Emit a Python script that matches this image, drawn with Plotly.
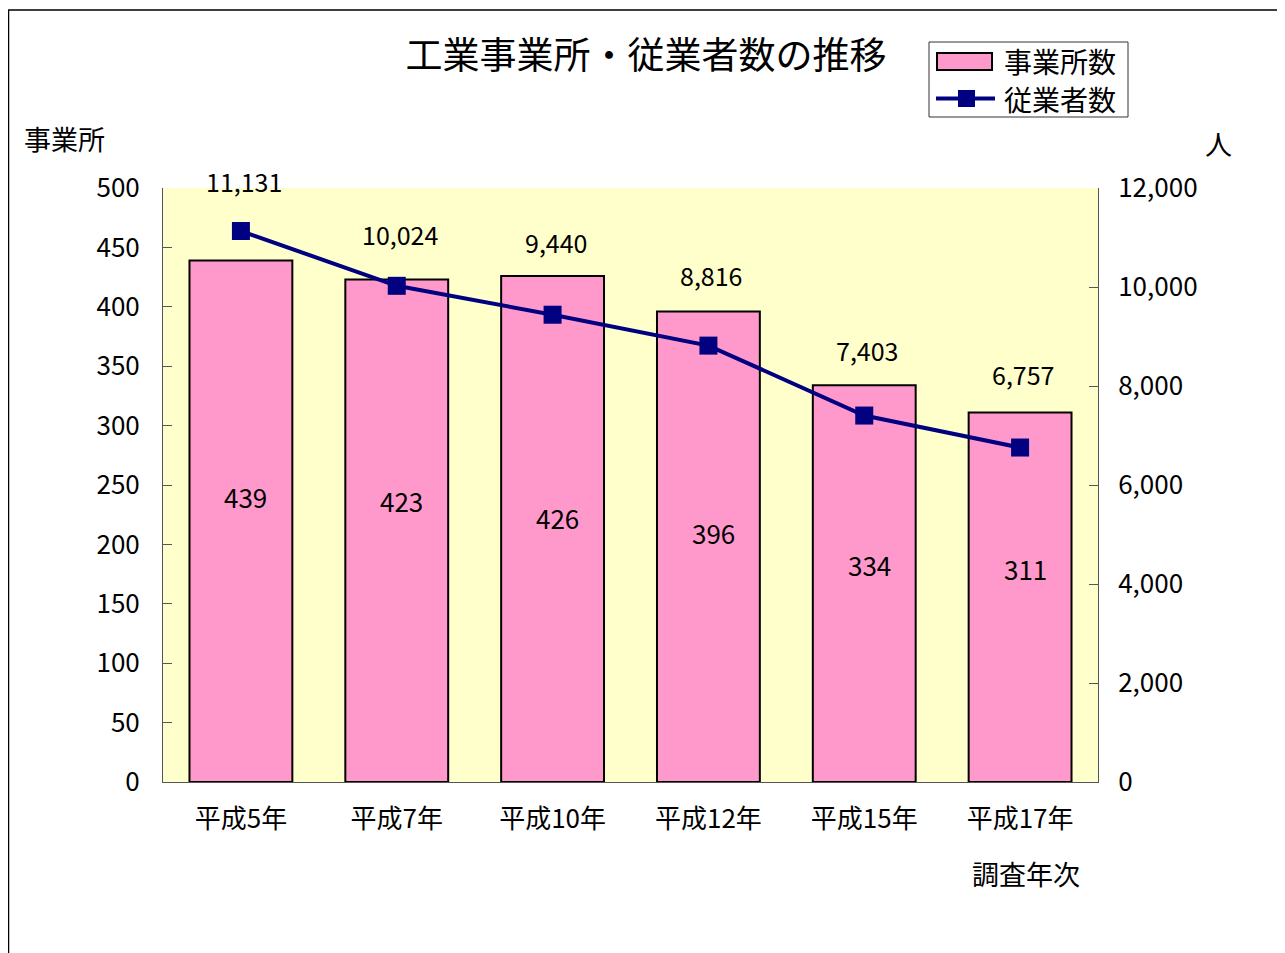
import plotly.graph_objects as go

categories = ["平成5年", "平成7年", "平成10年", "平成12年", "平成15年", "平成17年"]
establishments = [439, 423, 426, 396, 334, 311]
employees = [11131, 10024, 9440, 8816, 7403, 6757]
bar_label_y = [239, 235, 221, 208, 181, 178]        # where the in-bar labels sit (left axis units)
line_label_shift = [50, 52, 73, 71, 66, 74]          # pixel lift of employee labels above markers

FONT = "Noto Sans CJK JP"
OFF = 8  # page body margin
W, H = 1285 - OFF, 953 - OFF
L, T = 163 - OFF, 188 - OFF
RX, BY = 1098 - OFF, 782 - OFF
R, B = W - RX, H - BY
pw, ph = RX - L, BY - T


def px_x(p):
    return (p - OFF - L) / pw


def px_y(p):
    return (BY - (p - OFF)) / ph


fig = go.Figure()
fig.add_trace(go.Bar(
    x=categories, y=establishments, name="事業所数",
    marker=dict(color="#FF99CC", line=dict(color="#000000", width=2)),
    width=0.66, yaxis="y", showlegend=False,
))
fig.add_trace(go.Scatter(
    x=categories, y=employees, name="従業者数", mode="lines+markers",
    line=dict(color="#000080", width=4),
    marker=dict(symbol="square", size=18, color="#000080"),
    yaxis="y2", showlegend=False,
))

ann = []
for c, v, ly in zip(categories, establishments, bar_label_y):
    ann.append(dict(x=c, y=ly, xref="x", yref="y", text=str(v), showarrow=False,
                    xshift=5, yshift=2, font=dict(family=FONT, size=26, color="#000")))
for c, v, s in zip(categories, employees, line_label_shift):
    ann.append(dict(x=c, y=v, xref="x", yref="y2", text=f"{v:,}", showarrow=False,
                    yshift=s, xshift=3, font=dict(family=FONT, size=25, color="#000")))

ann += [
    dict(x=px_x(64), y=px_y(138), xref="paper", yref="paper", text="事業所", showarrow=False,
         xanchor="center", yanchor="middle", font=dict(family=FONT, size=27, color="#000")),
    dict(x=px_x(1218), y=px_y(143), xref="paper", yref="paper", text="人", showarrow=False,
         xanchor="center", yanchor="middle", font=dict(family=FONT, size=27, color="#000")),
    dict(x=px_x(1026), y=px_y(873), xref="paper", yref="paper", text="調査年次", showarrow=False,
         xanchor="center", yanchor="middle", font=dict(family=FONT, size=27, color="#000")),
    # legend texts
    dict(x=px_x(1002), y=px_y(61), xref="paper", yref="paper", text="事業所数", showarrow=False,
         xanchor="left", yanchor="middle", font=dict(family=FONT, size=28, color="#000")),
    dict(x=px_x(1002), y=px_y(99), xref="paper", yref="paper", text="従業者数", showarrow=False,
         xanchor="left", yanchor="middle", font=dict(family=FONT, size=28, color="#000")),
]

shapes = [
    # outer frame
    dict(type="rect", xref="paper", yref="paper",
         x0=px_x(8.5), x1=px_x(1300), y0=px_y(970), y1=px_y(10),
         line=dict(color="#000000", width=1.5), fillcolor="rgba(0,0,0,0)", layer="below"),
    # legend box
    dict(type="rect", xref="paper", yref="paper",
         x0=px_x(929), x1=px_x(1128), y0=px_y(117), y1=px_y(42),
         line=dict(color="#333333", width=1), fillcolor="#FFFFFF"),
    # legend bar swatch
    dict(type="rect", xref="paper", yref="paper",
         x0=px_x(937), x1=px_x(992), y0=px_y(70), y1=px_y(53),
         line=dict(color="#000000", width=2), fillcolor="#FF99CC"),
    # legend line
    dict(type="line", xref="paper", yref="paper",
         x0=px_x(936), x1=px_x(995), y0=px_y(98.5), y1=px_y(98.5),
         line=dict(color="#000080", width=4)),
    # legend marker
    dict(type="rect", xref="paper", yref="paper",
         x0=px_x(958), x1=px_x(975), y0=px_y(107), y1=px_y(90),
         line=dict(color="#000080", width=0), fillcolor="#000080"),
]

fig.update_layout(
    width=W, height=H,
    margin=dict(l=L, r=R, t=T, b=B),
    paper_bgcolor="#FFFFFF", plot_bgcolor="#FFFFCC",
    title=dict(text="工業事業所・従業者数の推移", x=(646 - OFF) / W, xanchor="center",
               y=1 - (56 - OFF) / H, yanchor="middle", font=dict(family=FONT, size=37, color="#000")),
    font=dict(family=FONT, size=26, color="#000"),
    showlegend=False,
    xaxis=dict(showgrid=False, showline=True, linecolor="#555555", linewidth=1,
               tickfont=dict(family=FONT, size=26, color="#000"), ticks="", ticklabelstandoff=14),
    yaxis=dict(range=[0, 500], dtick=50, showgrid=False, showline=True, linecolor="#555555",
               linewidth=1, ticks="inside", ticklen=9, tickcolor="#555555", zeroline=False,
               tickfont=dict(family=FONT, size=26, color="#000"), ticklabelstandoff=17),
    yaxis2=dict(range=[0, 12000], dtick=2000, overlaying="y", side="right", showgrid=False,
                showline=True, linecolor="#555555", linewidth=1, ticks="inside", ticklen=9,
                tickcolor="#555555", tickformat=",", zeroline=False,
                tickfont=dict(family=FONT, size=26, color="#000"), ticklabelstandoff=14),
    annotations=ann,
    shapes=shapes,
)

fig.write_html("out.html")
